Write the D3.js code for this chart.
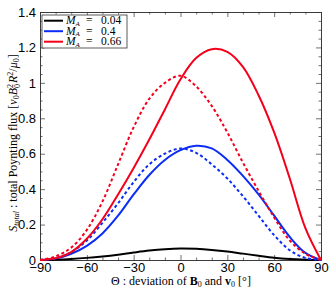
<!DOCTYPE html>
<html lang="en">
<head>
<meta charset="UTF-8">
<script src="https://d3js.org/d3.v7.min.js"></script>
<style>
  body { margin: 0; background: #fff; }
  svg text { fill: #000; }
  .tick text { font-family: "Liberation Sans", Arial, sans-serif; font-size: 13px; }
  .serif { font-family: "Liberation Serif", "DejaVu Serif", serif; }
</style>
</head>
<body>
<div id="chart"></div>
<script>
// angle samples (deg) and curves
const theta = [-90, -80, -70, -60, -50, -40, -30, -20, -10, 0, 10, 20, 30, 40, 50, 60, 70, 80, 90];

const ma066Solid  = [0, 0.01, 0.045, 0.12, 0.23, 0.37, 0.52, 0.68, 0.85, 1.02, 1.14, 1.19, 1.175, 1.09, 0.93, 0.72, 0.46, 0.18, 0];
const ma066Dashed = [0, 0.02, 0.07, 0.17, 0.33, 0.54, 0.75, 0.91, 1.0, 1.04, 0.98, 0.87, 0.72, 0.55, 0.39, 0.24, 0.11, 0.035, 0];
const ma04Solid   = [0, 0.008, 0.035, 0.08, 0.15, 0.25, 0.37, 0.48, 0.565, 0.62, 0.645, 0.63, 0.565, 0.475, 0.37, 0.25, 0.13, 0.04, 0];
const ma04Dashed  = [0, 0.01, 0.045, 0.11, 0.21, 0.32, 0.44, 0.54, 0.6, 0.63, 0.605, 0.54, 0.46, 0.36, 0.25, 0.14, 0.055, 0.012, 0];
const ma004Solid  = [0, 0.002, 0.006, 0.012, 0.02, 0.03, 0.042, 0.053, 0.061, 0.065, 0.063, 0.057, 0.048, 0.036, 0.024, 0.013, 0.006, 0.002, 0];

const legendLabels = ["0.04", "0.4", "0.66"];
const xTicks = [-90, -60, -30, 0, 30, 60, 90];
const yTicks = [0, 0.2, 0.4, 0.6, 0.8, 1, 1.2, 1.4];

const width = 332, height = 291;
const mLeft = 40, mRight = 321, mTop = 12, mBottom = 260;

const svg = d3.select("#chart").append("svg")
    .attr("width", width)
    .attr("height", height);

const x = d3.scaleLinear().domain([-90, 90]).range([mLeft, mRight]);
const y = d3.scaleLinear().domain([0, 1.4]).range([mBottom, mTop]);

const fmtY = d => d === 0 ? "0" : String(d);
const fmtX = d => d < 0 ? "\u2212" + Math.abs(d) : String(d);

// minor ticks
const minorX = d3.range(-90, 91, 10).filter(v => v % 30 !== 0);
const minorY = d3.range(0, 1.41, 0.05).filter(v => Math.abs(v / 0.2 - Math.round(v / 0.2)) > 0.01);

function styleAxis(g) {
    g.select(".domain").attr("stroke", "#333").attr("stroke-width", 0.8);
    g.selectAll(".tick line").attr("stroke", "#333").attr("stroke-width", 0.7);
}

svg.append("g").attr("transform", `translate(0,${mBottom})`)
    .call(d3.axisBottom(x).tickValues(xTicks).tickFormat(fmtX).tickSizeInner(-5).tickSizeOuter(0).tickPadding(3))
    .call(styleAxis);
svg.append("g").attr("transform", `translate(0,${mBottom})`)
    .call(d3.axisBottom(x).tickValues(minorX).tickFormat("").tickSizeInner(-2.5).tickSizeOuter(0))
    .call(styleAxis);
svg.append("g").attr("transform", `translate(0,${mTop})`)
    .call(d3.axisTop(x).tickValues(xTicks).tickFormat("").tickSizeInner(-5).tickSizeOuter(0))
    .call(styleAxis);
svg.append("g").attr("transform", `translate(0,${mTop})`)
    .call(d3.axisTop(x).tickValues(minorX).tickFormat("").tickSizeInner(-2.5).tickSizeOuter(0))
    .call(styleAxis);

svg.append("g").attr("transform", `translate(${mLeft},0)`)
    .call(d3.axisLeft(y).tickValues(yTicks).tickFormat(fmtY).tickSizeInner(-5).tickSizeOuter(0).tickPadding(4))
    .call(styleAxis);
svg.append("g").attr("transform", `translate(${mLeft},0)`)
    .call(d3.axisLeft(y).tickValues(minorY).tickFormat("").tickSizeInner(-2.5).tickSizeOuter(0))
    .call(styleAxis);
svg.append("g").attr("transform", `translate(${mRight},0)`)
    .call(d3.axisRight(y).tickValues(yTicks).tickFormat("").tickSizeInner(-5).tickSizeOuter(0))
    .call(styleAxis);
svg.append("g").attr("transform", `translate(${mRight},0)`)
    .call(d3.axisRight(y).tickValues(minorY).tickFormat("").tickSizeInner(-2.5).tickSizeOuter(0))
    .call(styleAxis);

// curves
const line = d3.line()
    .x((d, i) => x(theta[i]))
    .y(d => y(Math.max(0, d)))
    .curve(d3.curveCatmullRom.alpha(0.5));

const series = [
    { vals: ma004Solid, color: "#000000", dash: null },
    { vals: ma04Dashed, color: "#0a2cf5", dash: "3,2.6" },
    { vals: ma04Solid, color: "#0a2cf5", dash: null },
    { vals: ma066Dashed, color: "#f5001a", dash: "3,2.6" },
    { vals: ma066Solid, color: "#f5001a", dash: null }
];

svg.append("g").selectAll("path")
    .data(series)
    .enter()
    .append("path")
    .attr("d", d => line(d.vals))
    .attr("fill", "none")
    .attr("stroke", d => d.color)
    .attr("stroke-width", 2)
    .attr("stroke-dasharray", d => d.dash);

// legend
const legendColors = ["#000000", "#0a2cf5", "#f5001a"];
const leg = svg.append("g").attr("class", "serif");
leg.append("rect")
    .attr("x", 42).attr("y", 15)
    .attr("width", 85).attr("height", 33)
    .attr("fill", "#fff").attr("stroke", "#333").attr("stroke-width", 0.8);

const rows = leg.selectAll("g.row")
    .data(legendLabels)
    .enter()
    .append("g")
    .attr("class", "row")
    .attr("transform", (d, i) => `translate(0,${20.7 + i * 10.5})`);

rows.append("line")
    .attr("x1", 44).attr("x2", 63)
    .attr("stroke", (d, i) => legendColors[i])
    .attr("stroke-width", 2);

const rowText = rows.append("text")
    .attr("x", 66).attr("y", 3.5)
    .style("font-size", "11.5px");
rowText.append("tspan").style("font-style", "italic").text("M");
rowText.append("tspan").style("font-style", "italic").style("font-size", "7px").attr("dy", 1.5).text("A");
rows.append("text").attr("x", 86).attr("y", 3.5).style("font-size", "11.5px").text("=");
rows.append("text").attr("x", 101).attr("y", 3.5).style("font-size", "11.5px").text(d => d);

// x label
const xl = svg.append("text")
    .attr("class", "serif")
    .attr("x", 181).attr("y", 285)
    .attr("text-anchor", "middle")
    .style("font-size", "12px");
xl.append("tspan").text("\u0398 : deviation of ");
xl.append("tspan").style("font-weight", "bold").text("B");
xl.append("tspan").style("font-size", "8px").attr("dy", 2).text("0");
xl.append("tspan").attr("dy", -2).text(" and ");
xl.append("tspan").style("font-weight", "bold").text("v");
xl.append("tspan").style("font-size", "8px").attr("dy", 2).text("0");
xl.append("tspan").attr("dy", -2).text(" [\u00b0]");

// y label
const yl = svg.append("text")
    .attr("class", "serif")
    .attr("transform", `translate(17,${(mTop + mBottom) / 2 + 7}) rotate(-90)`)
    .attr("text-anchor", "middle")
    .style("font-size", "12px");
yl.append("tspan").style("font-style", "italic").text("S");
yl.append("tspan").style("font-style", "italic").style("font-size", "8px").attr("dy", 2).text("total");
yl.append("tspan").attr("dy", -2).text(" : total Poynting flux [");
yl.append("tspan").style("font-style", "italic").text("v");
yl.append("tspan").style("font-size", "8px").attr("dy", 2).text("0");
yl.append("tspan").style("font-style", "italic").attr("dy", -2).text("B");
yl.append("tspan").style("font-size", "8px").attr("dy", -4).text("2");
yl.append("tspan").style("font-size", "8px").attr("dy", 7).attr("dx", -4).text("0");
yl.append("tspan").style("font-style", "italic").attr("dy", -3).attr("dx", 1).text("R");
yl.append("tspan").style("font-size", "8px").attr("dy", -4).text("2");
yl.append("tspan").attr("dy", 4).text("/");
yl.append("tspan").style("font-style", "italic").text("\u03bc");
yl.append("tspan").style("font-size", "8px").attr("dy", 2).text("0");
yl.append("tspan").attr("dy", -2).text("]");
</script>
</body>
</html>
